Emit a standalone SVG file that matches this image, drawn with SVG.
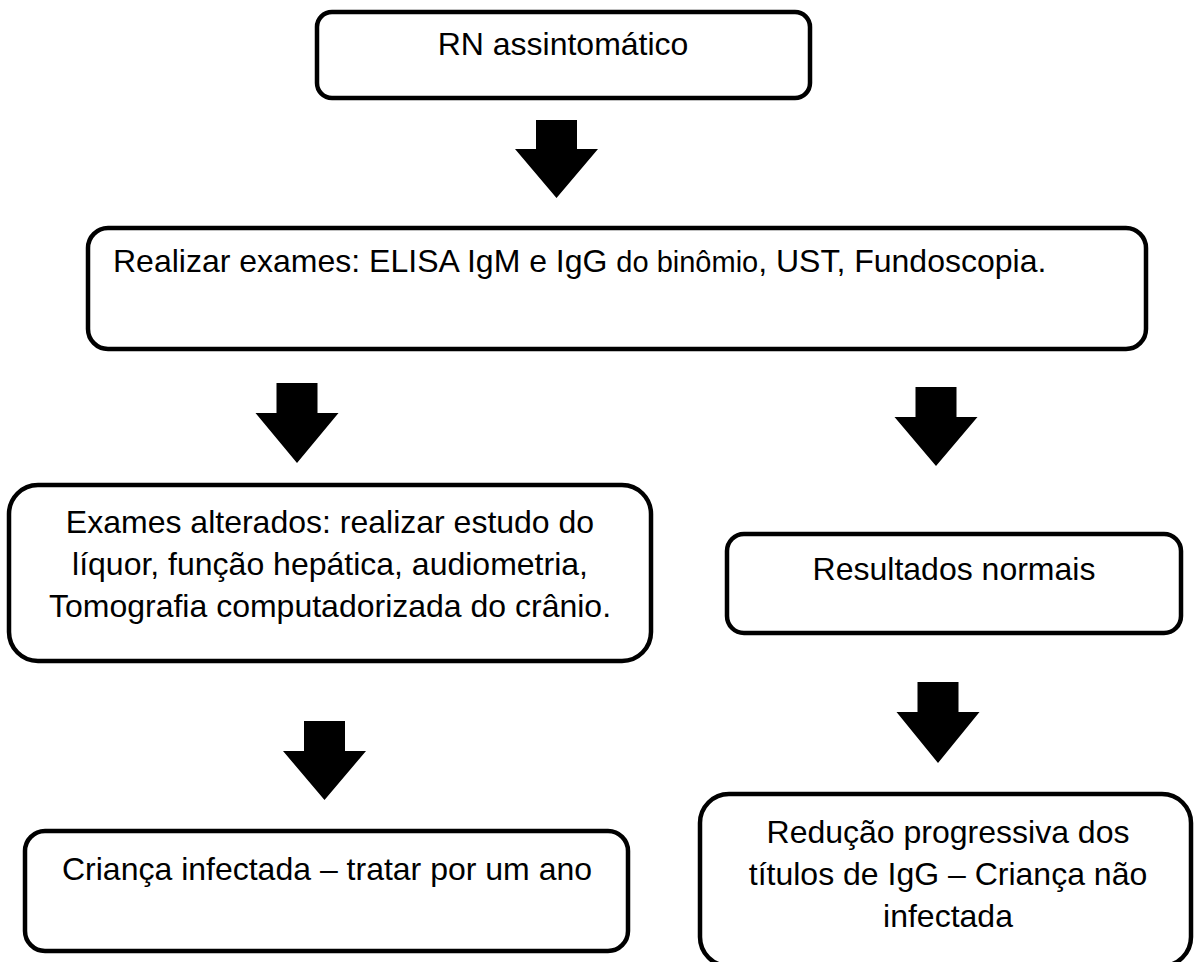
<svg xmlns="http://www.w3.org/2000/svg" width="1197" height="962" viewBox="0 0 1197 962">
<style>
.box{fill:#fff;stroke:#000;stroke-width:4.5}
.t{font-family:"Liberation Sans",Arial,sans-serif;font-size:32px;fill:#000}
.c{text-anchor:middle}
.arr{fill:#000;stroke:none}
</style>
<rect width="1197" height="962" fill="#fff"/>
<g id="connectors">
<polygon class="arr" points="536,120 577,120 577,149 598,149 556.5,198 515,149 536,149"/>
<polygon class="arr" points="276.5,383 317.5,383 317.5,413 338.5,413 297,463 255.5,413 276.5,413"/>
<polygon class="arr" points="915.5,387 956.5,387 956.5,417 977.5,417 936,466 894.5,417 915.5,417"/>
<polygon class="arr" points="304,721 345,721 345,751 366,751 324.5,800 283,751 304,751"/>
<polygon class="arr" points="917.5,682 958.5,682 958.5,712 979.5,712 938,763 896.5,712 917.5,712"/>
</g>
<g id="n1">
<rect class="box" x="317" y="12" width="493" height="86" rx="15"/>
<text class="t c" x="563" y="55">RN assintomático</text>
</g>
<g id="n2">
<rect class="box" x="88" y="228" width="1058" height="121" rx="20"/>
<text class="t" x="113" y="272">Realizar exames: ELISA IgM e IgG <tspan font-size="29">do binômio</tspan>, UST, Fundoscopia.</text>
</g>
<g id="n3">
<rect class="box" x="9" y="485" width="642" height="176" rx="29"/>
<text class="t c" x="330" y="533">Exames alterados: realizar estudo do</text>
<text class="t c" x="330" y="575">líquor, função hepática, audiometria,</text>
<text class="t c" x="330" y="617">Tomografia computadorizada do crânio.</text>
</g>
<g id="n4">
<rect class="box" x="727" y="534" width="454" height="99" rx="17"/>
<text class="t c" x="954" y="580">Resultados normais</text>
</g>
<g id="n5">
<rect class="box" x="25" y="831" width="603" height="120" rx="20"/>
<text class="t c" x="327" y="880">Criança infectada – tratar por um ano</text>
</g>
<g id="n6">
<rect class="box" x="700" y="794" width="491" height="172" rx="29"/>
<text class="t c" x="948" y="843">Redução progressiva dos</text>
<text class="t c" x="948" y="885">títulos de IgG – Criança não</text>
<text class="t c" x="948" y="927">infectada</text>
</g>
</svg>
